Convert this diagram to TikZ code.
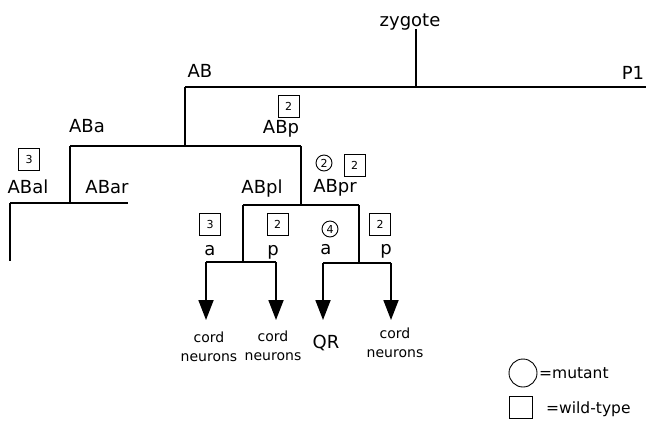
\documentclass[tikz,border=0pt]{standalone}
\usepackage{fontspec}
\setmainfont{DejaVu Sans}
\usetikzlibrary{arrows.meta}
\begin{document}
\begin{tikzpicture}[x=1pt,y=-1pt,
  tree/.style={line width=1.8pt},
  lab/.style={anchor=base,inner sep=0pt,font=\fontsize{18}{21}\selectfont},
  small/.style={anchor=base,inner sep=0pt,align=center,font=\fontsize{14}{19}\selectfont},
  legtxt/.style={anchor=base west,inner sep=0pt,font=\fontsize{15.5}{18}\selectfont},
  wt/.style={draw,line width=0.9pt,minimum width=21pt,minimum height=22pt,inner sep=0pt,font=\fontsize{11}{12}\selectfont},
  mut/.style={draw,circle,line width=0.9pt,minimum size=16pt,inner sep=0pt,font=\fontsize{11}{12}\selectfont},
  arr/.style={tree,-{Triangle[length=20pt,width=15pt]}}]
\useasboundingbox (0,0) rectangle (647,421);
% labels
\node[lab] (zyg) at (410,26) {zygote};
\node[lab] (AB) at (200,77) {AB};
\node[lab] (P1) at (633,79) {P1};
\node[lab] (ABa) at (87,132) {ABa};
\node[lab] (ABp) at (281,133) {ABp};
\node[lab] (ABal) at (28,193) {ABal};
\node[lab] (ABar) at (107,193) {ABar};
\node[lab] (ABpl) at (262,193) {ABpl};
\node[lab] (ABpr) at (335,192) {ABpr};
\node[lab] (a1) at (210,255) {a};
\node[lab] (p1) at (273,255) {p};
\node[lab] (a2) at (326,254) {a};
\node[lab] (p2) at (386,254) {p};
% markers
\node[wt] (bABp) at (288.5,106.5) {2};
\node[wt] (bABal) at (29,159) {3};
\node[mut] (cABpr) at (324,163) {2};
\node[wt] (bABpr) at (354.5,165.5) {2};
\node[wt] (ba1) at (210,224) {3};
\node[wt] (bp1) at (277.5,224) {2};
\node[mut] (ca2) at (330,229) {4};
\node[wt] (bp2) at (380,224.5) {2};
% fates (base = baseline of last line)
\node[small] (f1) at (209,361) {cord\\neurons};
\node[small] (f2) at (273,360) {cord\\neurons};
\node[lab] (f3) at (326,348) {QR};
\node[small] (f4) at (395,357) {cord\\neurons};
% junction coordinates
\coordinate (z0) at (416,29);
\coordinate (z1) at (416,87);
\coordinate (ABj) at (185,87);
\coordinate (P1e) at (646,87);
\coordinate (ABd) at (185,146);
\coordinate (ABaj) at (70,146);
\coordinate (ABpj) at (301,146);
\coordinate (ABad) at (70,203);
\coordinate (ABalj) at (10,203);
\coordinate (ABare) at (128,203);
\coordinate (ABale) at (10,261);
\coordinate (ABpd) at (301,205);
\coordinate (ABplj) at (243,205);
\coordinate (ABprj) at (359,205);
\coordinate (ABpld) at (243,262);
\coordinate (ABprd) at (359,263);
\coordinate (a1j) at (206,262);
\coordinate (p1j) at (276,262);
\coordinate (a2j) at (323,263);
\coordinate (p2j) at (391,263);
\coordinate (a1e) at (206,320);
\coordinate (p1e) at (276,320);
\coordinate (a2e) at (323,320);
\coordinate (p2e) at (391,320);
% tree
\draw[tree] (z0) -- (z1);
\draw[tree] (ABj) -- (P1e);
\draw[tree] (ABj) -- (ABd);
\draw[tree] (ABaj) -- (ABpj);
\draw[tree] (ABaj) -- (ABad);
\draw[tree] (ABalj) -- (ABare);
\draw[tree] (ABalj) -- (ABale);
\draw[tree] (ABpj) -- (ABpd);
\draw[tree] (ABplj) -- (ABprj);
\draw[tree] (ABplj) -- (ABpld);
\draw[tree] (ABprj) -- (ABprd);
\draw[tree] (a1j) -- (p1j);
\draw[tree] (a2j) -- (p2j);
\draw[arr] (a1j) -- (a1e);
\draw[arr] (p1j) -- (p1e);
\draw[arr] (a2j) -- (a2e);
\draw[arr] (p2j) -- (p2e);
% legend
\node[draw,circle,line width=0.9pt,minimum size=28pt,inner sep=0pt] (lc) at (523,373) {};
\node[legtxt] (lct) at (539,378) {=mutant};
\node[draw,line width=0.9pt,minimum width=23pt,minimum height=22pt,inner sep=0pt] (ls) at (520.5,407.5) {};
\node[legtxt] (lst) at (546,413) {=wild-type};
\end{tikzpicture}
\end{document}
